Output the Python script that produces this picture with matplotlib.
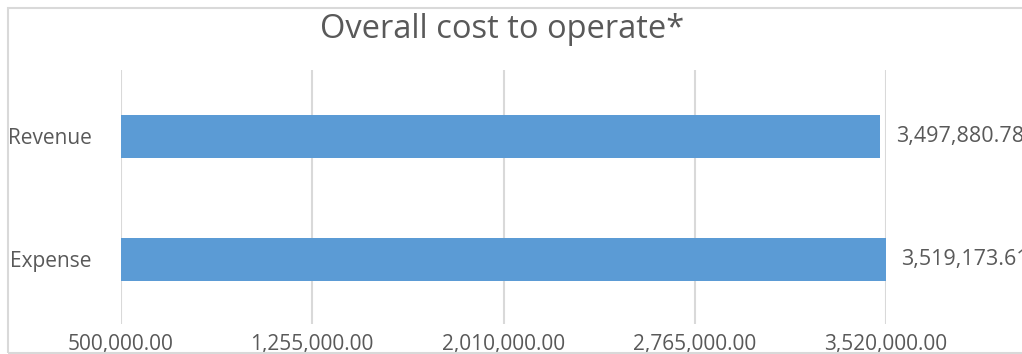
import numpy as np
import matplotlib.pyplot as plt
from matplotlib.patches import Rectangle
from matplotlib.ticker import FuncFormatter

plt.rcParams["font.family"] = ["Open Sans", "DejaVu Sans"]

# Data
categories = ["Expense", "Revenue"]
values = [3519173.61, 3497880.78]
ticks = [500000, 1255000, 2010000, 2765000, 3520000]

text_color = "#595959"
bar_color = "#5B9BD5"
grid_color = "#D9D9D9"

fig = plt.figure(figsize=(10.22, 3.54), dpi=100)
W, H = 1022, 354

# chart area border (right edge runs off the canvas)
fig.patches.append(Rectangle((8 / W, 1 / H), 1.2, 1 - 9 / H, transform=fig.transFigure,
                             fill=False, edgecolor=grid_color, linewidth=1.5, zorder=0))

ax = fig.add_axes([121 / W, 1 - 324 / H, (886 - 121) / W, (324 - 70) / H])
y = np.arange(len(categories))
ax.barh(y, np.array(values) - ticks[0], left=ticks[0], height=0.35, color=bar_color, zorder=2)

ax.set_xlim(ticks[0], ticks[-1])
ax.set_ylim(-0.528, len(categories) - 0.46)
ax.set_xticks(ticks)
ax.xaxis.set_major_formatter(FuncFormatter(lambda v, p: f"{v:,.2f}"))
ax.set_yticks(y)
ax.set_yticklabels(categories)
ax.tick_params(axis="both", length=0, labelsize=15, colors=text_color)
ax.tick_params(axis="x", pad=7)
ax.tick_params(axis="y", pad=21)
ax.grid(axis="x", color=grid_color, linewidth=1.5, zorder=0)
for s in ax.spines.values():
    s.set_visible(False)

# value labels run past the right edge of the canvas
for yi, v in zip(y, values):
    ax.text(v + 60000, yi, f"{v:,.2f}", va="center", ha="left",
            fontsize=15.5, color=text_color, clip_on=False)

fig.text(502 / W, 1 - 30 / H, "Overall cost to operate*", ha="center", va="center",
         fontsize=23.5, color=text_color)

fig.savefig("out.png", dpi=100)
